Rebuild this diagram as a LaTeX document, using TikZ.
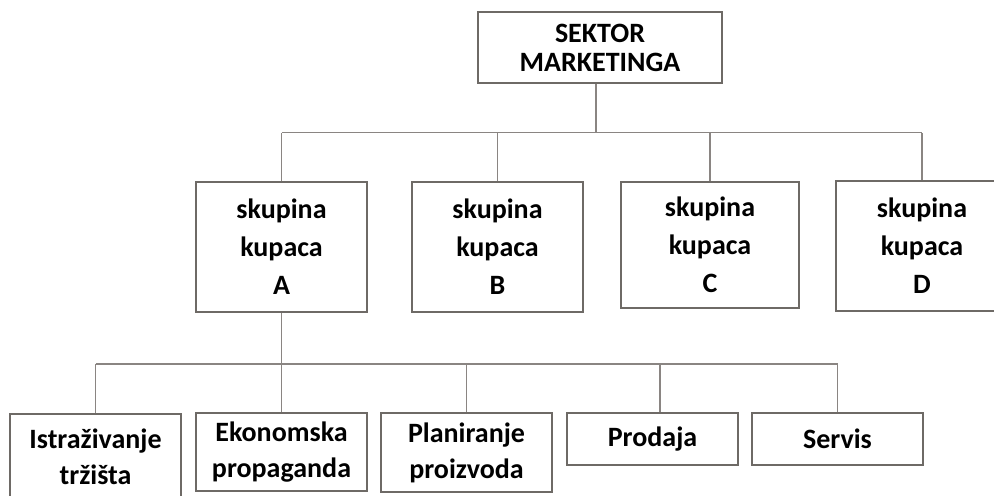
\documentclass[tikz,border=0pt]{standalone}
\usepackage{fontspec}
\setmainfont{Carlito}
\usetikzlibrary{positioning,calc}
\definecolor{boxGrey}{HTML}{6E6A66}
\definecolor{lineGrey}{HTML}{8A8582}
\tikzset{
        box/.style={rectangle, draw=boxGrey, line width=0.9pt, inner sep=0pt, align=center, font=\bfseries\fontsize{14}{19}\selectfont},
        % Top node
        node_sector/.style={box, minimum width=122pt, minimum height=35.5pt, font=\bfseries\fontsize{14}{14.5}\selectfont},
        % Customer group nodes
        node_group/.style={box, minimum width=85.5pt, minimum height=65pt},
        % Function nodes
        node_function/.style={box, minimum width=85.5pt, font=\bfseries\fontsize{14}{18}\selectfont},
        % Connectors
        link/.style={draw=lineGrey, line width=0.7pt}
}
\begin{document}
\begin{tikzpicture}[x=0.5pt, y=-0.5pt]
            \useasboundingbox (0,0) rectangle (994,495);
            \node[node_sector] (sektor) at (600,47.5) {SEKTOR\\MARKETINGA};
            % Customer groups
            \node[node_group] (grupa_a) at (281.5,247) {skupina\\kupaca\\A};
            \node[node_group] (grupa_b) at (497.5,247) {skupina\\kupaca\\B};
            \node[node_group, minimum width=89pt, minimum height=63pt] (grupa_c) at (710,245) {skupina\\kupaca\\C};
            \node[node_group, minimum width=86pt] (grupa_d) at (922,246) {skupina\\kupaca\\D};
            % Functions of group A
            \node[node_function, minimum height=43pt] (istrazivanje) at (95.5,457) {Istraživanje\\tržišta};
            \node[node_function, minimum height=39pt] (ekonomska) at (281.5,452) {Ekonomska\\propaganda};
            \node[node_function, minimum height=39.5pt] (planiranje) at (466.5,452.5) {Planiranje\\proizvoda};
            \node[node_function, minimum height=26pt] (prodaja) at (652.5,439) {Prodaja};
            \node[node_function, minimum height=26pt] (servis) at (837.5,439) {Servis};
            % Buses
            \coordinate (bus_top) at (0,132.5);
            \coordinate (bus_bottom) at (0,364);
            \draw[link] ([xshift=-2pt]sektor.south) -- ([xshift=-2pt]sektor.south |- bus_top);
            \draw[link] (grupa_a.north |- bus_top) -- (grupa_d.north |- bus_top);
            \foreach \g in {grupa_a, grupa_b, grupa_c, grupa_d}
                \draw[link] (\g.north) -- (\g.north |- bus_top);
            \draw[link] (grupa_a.south) -- (ekonomska.north);
            \draw[link] (istrazivanje.north |- bus_bottom) -- (servis.north |- bus_bottom);
            \foreach \f in {istrazivanje, planiranje, servis}
                \draw[link] (\f.north) -- (\f.north |- bus_bottom);
            \draw[link] ([xshift=3.75pt]prodaja.north) -- ([xshift=3.75pt]prodaja.north |- bus_bottom);
\end{tikzpicture}
\end{document}
